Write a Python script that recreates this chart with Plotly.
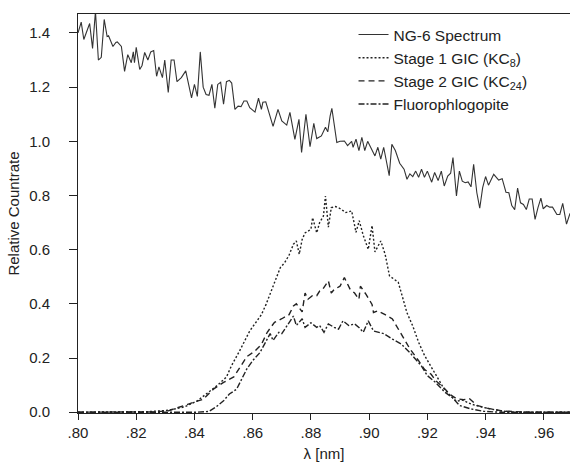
import plotly.graph_objects as go

# NG-6 spectrum
ng6_x = [0.800, 0.8011, 0.802, 0.804, 0.805, 0.806, 0.807, 0.808, 0.809, 0.810, 0.8105, 0.812, 0.813, 0.8135,
         0.8149, 0.816, 0.8171, 0.8183, 0.819, 0.8194, 0.820, 0.8212, 0.822, 0.8229, 0.824, 0.825, 0.826, 0.827,
         0.8278, 0.829, 0.8298, 0.831, 0.832, 0.833, 0.834, 0.8355, 0.837, 0.838, 0.839, 0.840, 0.841, 0.842,
         0.843, 0.844, 0.845, 0.846, 0.847, 0.848, 0.849, 0.850, 0.851, 0.852, 0.8528, 0.8539, 0.855, 0.856,
         0.857, 0.858, 0.859, 0.8608, 0.862, 0.863, 0.8635, 0.8645, 0.867, 0.8687, 0.870, 0.8717, 0.8728, 0.8745,
         0.8759, 0.8768, 0.8783, 0.8797, 0.881, 0.882, 0.8836, 0.885, 0.8858, 0.8866, 0.8872, 0.8889, 0.890,
         0.8915, 0.8926, 0.894, 0.8945, 0.8955, 0.8965, 0.8975, 0.8985, 0.8995, 0.901, 0.902, 0.903, 0.904,
         0.905, 0.9069, 0.9078, 0.909, 0.9105, 0.912, 0.913, 0.914, 0.915, 0.916, 0.917, 0.918, 0.919, 0.920,
         0.9215, 0.9225, 0.9237, 0.9248, 0.9258, 0.927, 0.928, 0.9288, 0.930, 0.931, 0.932, 0.933, 0.934, 0.935,
         0.9359, 0.937, 0.938, 0.939, 0.940, 0.941, 0.9428, 0.9445, 0.9457, 0.947, 0.948, 0.949, 0.950, 0.951,
         0.952, 0.953, 0.954, 0.955, 0.956, 0.957, 0.958, 0.959, 0.9598, 0.961, 0.962, 0.963, 0.9645, 0.9655,
         0.9665, 0.9678, 0.969]
ng6_y = [1.40, 1.44, 1.376, 1.435, 1.343, 1.48, 1.30, 1.31, 1.45, 1.387, 1.39, 1.35, 1.365, 1.367,
         1.35, 1.258, 1.32, 1.29, 1.33, 1.29, 1.347, 1.265, 1.28, 1.328, 1.30, 1.33, 1.335, 1.24,
         1.275, 1.235, 1.30, 1.18, 1.30, 1.30, 1.22, 1.235, 1.26, 1.21, 1.16, 1.21, 1.166, 1.33,
         1.20, 1.173, 1.17, 1.21, 1.122, 1.21, 1.218, 1.137, 1.22, 1.225, 1.215, 1.118, 1.13, 1.128,
         1.149, 1.149, 1.124, 1.108, 1.159, 1.118, 1.144, 1.146, 1.055, 1.118, 1.075, 1.06, 1.107, 1.007,
         1.081, 0.959, 1.10, 0.98, 1.066, 1.01, 1.02, 1.052, 1.035, 1.093, 1.122, 0.996, 1.0,
         1.001, 0.984, 1.0, 0.978, 1.008, 0.966, 1.015, 0.966, 1.0, 0.966, 0.946, 0.978, 0.934,
         0.978, 0.873, 0.989, 0.966, 0.919, 0.897, 0.86, 0.88, 0.87, 0.89, 0.867, 0.897, 0.867, 0.89,
         0.849, 0.885, 0.855, 0.89, 0.835, 0.872, 0.882, 0.94, 0.798, 0.89, 0.853, 0.847, 0.85, 0.832,
         0.915, 0.81, 0.753, 0.829, 0.87, 0.838, 0.878, 0.857, 0.862, 0.812, 0.81, 0.763, 0.748, 0.827,
         0.773, 0.767, 0.748, 0.787, 0.787, 0.712, 0.755, 0.79, 0.751, 0.763, 0.757, 0.757, 0.73, 0.73,
         0.771, 0.694, 0.734]

# Stage 1 GIC (KC8)
s1_x = [0.800, 0.824, 0.831, 0.8367, 0.841, 0.8457, 0.848, 0.851, 0.8527, 0.8555, 0.857, 0.859, 0.861, 0.863,
        0.8646, 0.866, 0.867, 0.868, 0.8695, 0.871, 0.8725, 0.874, 0.875, 0.876, 0.877, 0.878, 0.880, 0.8806,
        0.882, 0.883, 0.8843, 0.885, 0.886, 0.887, 0.8885, 0.890, 0.892, 0.894, 0.8955, 0.8966, 0.898, 0.8997,
        0.901, 0.902, 0.904, 0.9055, 0.907, 0.910, 0.9117, 0.913, 0.915, 0.917, 0.919, 0.9213, 0.9236, 0.9258,
        0.928, 0.930, 0.932, 0.935, 0.939, 0.945, 0.950, 0.970]
s1_y = [0.0, 0.002, 0.007, 0.02, 0.042, 0.079, 0.10, 0.13, 0.171, 0.226, 0.258, 0.30, 0.33, 0.36,
        0.398, 0.435, 0.466, 0.49, 0.534, 0.552, 0.58, 0.62, 0.632, 0.583, 0.638, 0.662, 0.675, 0.718,
        0.662, 0.70, 0.724, 0.798, 0.683, 0.755, 0.759, 0.752, 0.737, 0.743, 0.664, 0.707, 0.652, 0.601,
        0.689, 0.592, 0.632, 0.583, 0.503, 0.48, 0.417, 0.367, 0.318, 0.258, 0.21, 0.166, 0.123, 0.085,
        0.06, 0.04, 0.045, 0.03, 0.018, 0.005, 0.0, 0.0]

# Stage 2 GIC (KC24)
s2_x = [0.800, 0.826, 0.831, 0.838, 0.843, 0.8465, 0.850, 0.8535, 0.8565, 0.858, 0.8607, 0.863, 0.865, 0.8675,
        0.870, 0.8725, 0.874, 0.875, 0.877, 0.878, 0.879, 0.8805, 0.882, 0.883, 0.884, 0.886, 0.887, 0.888,
        0.890, 0.8915, 0.8935, 0.895, 0.8965, 0.897, 0.899, 0.901, 0.9015, 0.903, 0.9055, 0.908, 0.9115, 0.914,
        0.917, 0.919, 0.9213, 0.923, 0.9258, 0.928, 0.930, 0.9325, 0.9345, 0.937, 0.9405, 0.946, 0.955, 0.970]
s2_y = [0.0, 0.001, 0.005, 0.03, 0.048, 0.085, 0.11, 0.13, 0.177, 0.205, 0.225, 0.25, 0.295, 0.332,
        0.345, 0.36, 0.392, 0.40, 0.37, 0.44, 0.417, 0.43, 0.43, 0.447, 0.453, 0.485, 0.44, 0.453,
        0.465, 0.497, 0.453, 0.44, 0.417, 0.465, 0.434, 0.398, 0.368, 0.374, 0.36, 0.344, 0.28, 0.234,
        0.19, 0.158, 0.14, 0.115, 0.088, 0.064, 0.05, 0.046, 0.05, 0.025, 0.015, 0.004, 0.0, 0.0]

# Fluorophlogopite
fl_x = [0.800, 0.841, 0.845, 0.8475, 0.850, 0.852, 0.8545, 0.8565, 0.858, 0.860, 0.8625, 0.8645, 0.866, 0.867,
        0.869, 0.870, 0.8725, 0.874, 0.875, 0.877, 0.878, 0.880, 0.882, 0.883, 0.8845, 0.886, 0.888, 0.8895,
        0.891, 0.893, 0.895, 0.8965, 0.898, 0.8997, 0.9015, 0.903, 0.905, 0.908, 0.911, 0.914, 0.916, 0.918,
        0.920, 0.9228, 0.926, 0.9285, 0.931, 0.935, 0.9395, 0.945, 0.970]
fl_y = [0.0, 0.0, 0.003, 0.02, 0.042, 0.067, 0.085, 0.13, 0.16, 0.19, 0.22, 0.26, 0.29, 0.265,
        0.295, 0.29, 0.33, 0.355, 0.32, 0.345, 0.313, 0.33, 0.313, 0.32, 0.295, 0.326, 0.313, 0.307,
        0.337, 0.32, 0.326, 0.313, 0.295, 0.337, 0.30, 0.295, 0.29, 0.27, 0.252, 0.22, 0.196, 0.17,
        0.135, 0.11, 0.074, 0.055, 0.025, 0.012, 0.003, 0.0, 0.0]

x_tickvals = [0.80, 0.82, 0.84, 0.86, 0.88, 0.90, 0.92, 0.94, 0.96]
x_ticktext = [".80", ".82", ".84", ".86", ".88", ".90", ".92", ".94", ".96"]
y_tickvals = [0.0, 0.2, 0.4, 0.6, 0.8, 1.0, 1.2, 1.4]

ink = "#222222"
y_range = [-0.003, 1.47]
fig = go.Figure()
fig.add_trace(go.Scatter(x=ng6_x, y=ng6_y, mode="lines", name="NG-6 Spectrum",
                         line=dict(color="#333333", width=1.1)))
fig.add_trace(go.Scatter(x=s1_x, y=s1_y, mode="lines", name="Stage 1 GIC (KC<sub>8</sub>)",
                         line=dict(color=ink, width=1.4, dash="2px,2px")))
fig.add_trace(go.Scatter(x=s2_x, y=s2_y, mode="lines", name="Stage 2 GIC (KC<sub>24</sub>)",
                         line=dict(color=ink, width=1.4, dash="6px,4px")))
fig.add_trace(go.Scatter(x=fl_x, y=fl_y, mode="lines", name="Fluorophlogopite",
                         line=dict(color=ink, width=1.4, dash="6px,2px,2px,2px")))
# empty helper trace bound to the label axis so it is drawn
fig.add_trace(go.Scatter(x=[None], y=[None], yaxis="y2", showlegend=False, hoverinfo="skip"))

font = dict(family="Liberation Sans, Arial, sans-serif", size=15, color=ink)
fig.update_layout(
    width=570, height=466,
    margin=dict(l=78, r=0, t=14, b=53),
    paper_bgcolor="white", plot_bgcolor="white",
    font=font,
    showlegend=True,
    legend=dict(x=0.56, y=0.99, xanchor="left", yanchor="top",
                bgcolor="rgba(0,0,0,0)", font=dict(size=15.5, color=ink),
                itemwidth=30, tracegroupgap=0),
    xaxis=dict(range=[0.80, 0.969], tickvals=x_tickvals, ticktext=x_ticktext,
               showline=True, linecolor=ink, linewidth=1.2, mirror=True,
               ticks="outside", ticklen=6, tickcolor=ink, showgrid=False, zeroline=False,
               tickfont=dict(size=15, color=ink),
               title=dict(text="λ [nm]", standoff=8, font=dict(size=15, color=ink))),
    # visible axis line and tick marks
    yaxis=dict(range=y_range, tickvals=y_tickvals, showticklabels=False,
               showline=True, linecolor=ink, linewidth=1.2,
               ticks="outside", ticklen=8, tickcolor=ink, showgrid=False, zeroline=False),
    # tick labels pushed further out via transparent long ticks
    yaxis2=dict(range=y_range, tickvals=y_tickvals, tickformat=".1f", overlaying="y",
                anchor="x", side="left", showline=False,
                ticks="outside", ticklen=24, tickcolor="rgba(0,0,0,0)",
                showgrid=False, zeroline=False,
                tickfont=dict(size=15, color=ink),
                title=dict(text="Relative Countrate", standoff=5, font=dict(size=15, color=ink))),
)
fig.write_html("out.html")
